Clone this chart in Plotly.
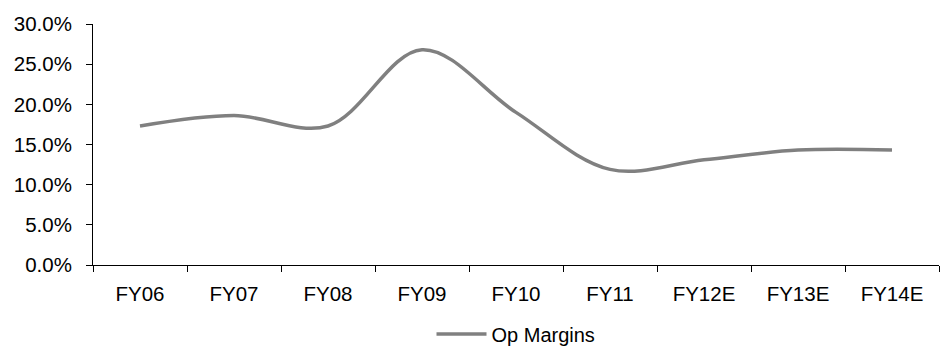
import plotly.graph_objects as go

categories = ["FY06", "FY07", "FY08", "FY09", "FY10", "FY11", "FY12E", "FY13E", "FY14E"]
op_margins = [0.173, 0.186, 0.173, 0.268, 0.190, 0.119, 0.131, 0.143, 0.143]
y_ticks = [0, 0.05, 0.10, 0.15, 0.20, 0.25, 0.30]

FONT = "Liberation Sans, Arial, sans-serif"

fig = go.Figure()
fig.add_trace(go.Scatter(
    x=categories, y=op_margins, mode="lines", name="Op Margins",
    line=dict(color="#808080", width=3.5, shape="spline", smoothing=1.0),
))

fig.update_layout(
    width=949, height=347,
    margin=dict(l=93, r=10, t=24, b=82, autoexpand=False),
    paper_bgcolor="white", plot_bgcolor="white",
    font=dict(family=FONT, size=20.5, color="#000000"),
    showlegend=True,
    legend=dict(orientation="h", x=0.5, xanchor="center",
                yref="container", y=(347 - 334) / 347, yanchor="middle",
                font=dict(size=20), itemwidth=50),
)
fig.update_xaxes(
    type="category", range=[-0.5, 8.5], showgrid=False, zeroline=False,
    showline=True, linecolor="#000000", linewidth=1,
    ticks="outside", tickson="boundaries", ticklen=6, tickcolor="#000000",
    ticklabelstandoff=10, automargin=False,
)
fig.update_yaxes(
    range=[0, 0.30], tickvals=y_ticks, tickformat=".1%", showgrid=False, zeroline=False,
    showline=True, linecolor="#000000", linewidth=1,
    ticks="outside", ticklen=6, tickcolor="#000000", ticklabelstandoff=10,
    automargin=False,
)

fig.write_html("out.html")
